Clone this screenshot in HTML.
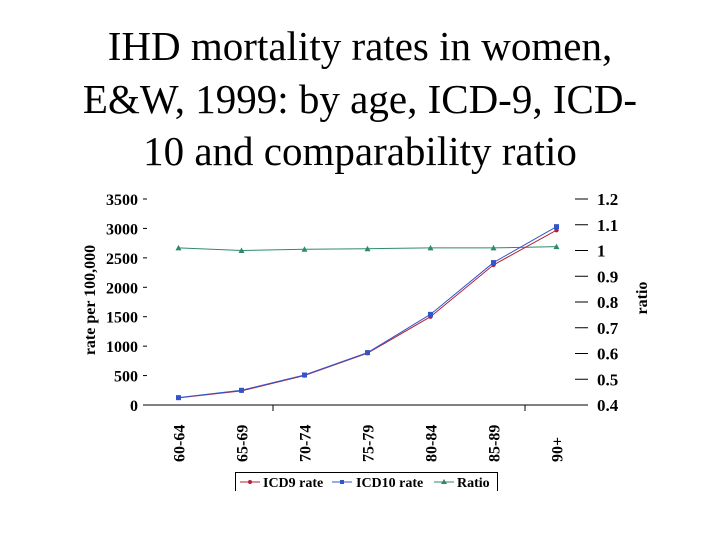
<!DOCTYPE html>
<html><head><meta charset="utf-8"><style>
body{margin:0;background:#fff;width:720px;height:540px;overflow:hidden}
svg{display:block;font-family:"Liberation Serif",serif}
</style></head><body>
<svg id="c" width="720" height="540">
<text x="360" y="60" font-size="41" text-anchor="middle">IHD mortality rates in women,</text>
<text x="360" y="113" font-size="41" text-anchor="middle">E&amp;W, 1999: by age, ICD-9, ICD-</text>
<text x="360" y="165" font-size="41" text-anchor="middle">10 and comparability ratio</text>
<text transform="translate(95,300) rotate(-90)" font-size="16" font-weight="bold" text-anchor="middle">rate per 100,000</text>
<text transform="translate(647,298) rotate(-90)" font-size="16" font-weight="bold" text-anchor="middle">ratio</text>
<g id="g"></g>
<rect x="235.5" y="472.5" width="262" height="30" fill="none" stroke="#000"/>
<rect x="230" y="491" width="280" height="50" fill="#fff"/>
<g font-size="14" font-weight="bold">
<line x1="240" y1="482" x2="260" y2="482" stroke="#b22234"/><circle cx="250" cy="482" r="2" fill="#b22234"/>
<text x="263" y="487">ICD9 rate</text>
<line x1="332" y1="482" x2="352" y2="482" stroke="#3355cc"/><rect x="340" y="480" width="4" height="4" fill="#3355cc"/>
<text x="356" y="487">ICD10 rate</text>
<line x1="434" y1="482" x2="454" y2="482" stroke="#2e8b67"/><path d="M441,484 L444,479 L447,484Z" fill="#2e8b67"/>
<text x="457" y="487">Ratio</text>
</g>
</svg>
<script>
const categories=["60-64","65-69","70-74","75-79","80-84","85-89","90+"];
const icd9=[120,240,500,880,1500,2380,2970];
const icd10=[125,250,510,890,1540,2420,3030];
const ratio=[1.01,1.0,1.005,1.007,1.01,1.01,1.015];
const leftTicks=[0,500,1000,1500,2000,2500,3000,3500];
const rightTicks=[0.4,0.5,0.6,0.7,0.8,0.9,1,1.1,1.2];
const NS="http://www.w3.org/2000/svg",g=document.getElementById('g');
const X0=147,X1=588,Y0=405,Y1=199;
const x=i=>X0+(i+0.5)*(X1-X0)/categories.length;
const yL=v=>Y0-(v/3500)*(Y0-Y1);
const yR=v=>Y0-((v-0.4)/0.8)*(Y0-Y1);
function el(t,a){const e=document.createElementNS(NS,t);for(const k in a)e.setAttribute(k,a[k]);g.appendChild(e);return e;}
let ax=el('line',{x1:X0,y1:Y0,x2:X1,y2:Y0,stroke:'#000'});


[2,6].forEach(b=>{const xx=X0+b*(X1-X0)/7;const t=el('line',{x1:xx,y1:Y0,x2:xx,y2:Y0+6,stroke:'#000'});

});
leftTicks.forEach(v=>{const t=el('text',{x:138,y:yL(v)+6,'font-size':16,'font-weight':'bold','text-anchor':'end'});t.textContent=v;


const l=el('line',{x1:143,y1:yL(v),x2:147,y2:yL(v),stroke:'#000'});

});
rightTicks.forEach(v=>{const t=el('text',{x:597,y:yR(v)+6,'font-size':17,'font-weight':'bold'});t.textContent=(Math.round(v*10)/10).toString();


const l=el('line',{x1:575,y1:yR(v),x2:588,y2:yR(v),stroke:'#000'});

});
categories.forEach((c,i)=>{const t=el('text',{transform:`translate(${x(i)+6},${Y0+57}) rotate(-90)`,'font-size':16,'font-weight':'bold'});t.textContent=c;

});
function series(vals,f,col,name,mk){
 const p=el('polyline',{points:vals.map((v,i)=>x(i)+','+f(v)).join(' '),fill:'none',stroke:col,'stroke-width':1});
 
 
 vals.forEach((v,i)=>{let m;const cx=x(i),cy=f(v);
  if(mk=='c')m=el('circle',{cx,cy,r:2.2,fill:col});
  else if(mk=='s')m=el('rect',{x:cx-2.5,y:cy-2.5,width:5,height:5,fill:col});
  else m=el('path',{d:`M${cx-3},${cy+2.5} L${cx},${cy-3} L${cx+3},${cy+2.5}Z`,fill:col});
  
  });
}
series(ratio,yR,'#2e8b67','ratio','t');
series(icd9,yL,'#b22234','icd9','c');
series(icd10,yL,'#3355cc','icd10','s');
</script>
</body></html>
